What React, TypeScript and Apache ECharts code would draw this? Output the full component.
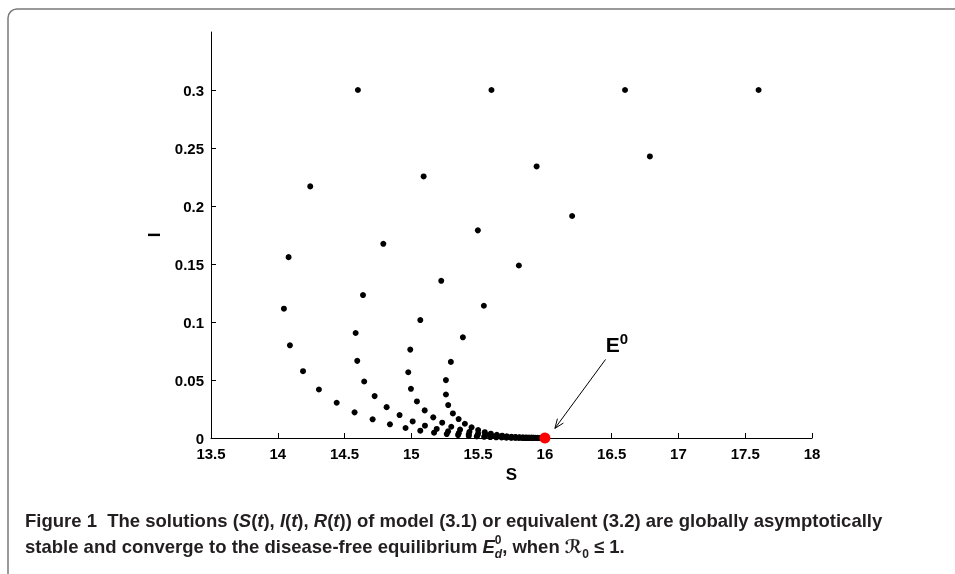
import React, { useEffect, useRef } from "react";
import * as echarts from "echarts";

// Y tick values (labels shown 0 .. 0.3; axis extends to 0.35)
const yTickValues = [0, 0.05, 0.1, 0.15, 0.2, 0.25, 0.3];

// Trajectory starting at S = 14.6
const trajA_S = [14.6, 14.243, 14.081, 14.046, 14.091, 14.189, 14.308, 14.441, 14.575, 14.71, 14.84, 14.957, 15.067, 15.17, 15.265, 15.35, 15.43, 15.49, 15.545, 15.59, 15.635, 15.675, 15.71, 15.745, 15.775, 15.8, 15.825, 15.845, 15.865, 15.88, 15.895, 15.91, 15.92, 15.93, 15.94, 15.95, 15.96, 15.965, 15.97, 15.975, 15.98, 15.985, 15.99];
const trajA_I = [0.3, 0.2169, 0.1559, 0.1115, 0.0799, 0.0576, 0.0418, 0.0304, 0.0221, 0.0161, 0.0118, 0.0086, 0.0063, 0.0046, 0.0034, 0.0025, 0.0018, 0.0013, 0.001, 0.0008, 0.0006, 0.0005, 0.0004, 0.0003, 0.0003, 0.0002, 0.0002, 0.0001, 0.0001, 0.0001, 0.0001, 0.0001, 0, 0, 0, 0, 0, 0, 0, 0, 0, 0, 0];

// Trajectory starting at S = 15.6
const trajB_S = [15.6, 15.092, 14.79, 14.638, 14.583, 14.595, 14.647, 14.725, 14.815, 14.912, 15.01, 15.102, 15.19, 15.275, 15.355, 15.43, 15.495, 15.55, 15.595, 15.64, 15.68, 15.715, 15.75, 15.78, 15.805, 15.83, 15.85, 15.87, 15.885, 15.9, 15.915, 15.925, 15.935, 15.945, 15.955, 15.962, 15.968, 15.974, 15.979, 15.984, 15.988, 15.992];
const trajB_I = [0.3, 0.2255, 0.1674, 0.1232, 0.0905, 0.0665, 0.0487, 0.0361, 0.0266, 0.0198, 0.0143, 0.0106, 0.0078, 0.0057, 0.0042, 0.0031, 0.0023, 0.0017, 0.0012, 0.0009, 0.0007, 0.0005, 0.0004, 0.0003, 0.0002, 0.0002, 0.0001, 0.0001, 0.0001, 0.0001, 0, 0, 0, 0, 0, 0, 0, 0, 0, 0, 0, 0];

// Trajectory starting at S = 16.6
const trajC_S = [16.6, 15.938, 15.498, 15.224, 15.067, 14.992, 14.977, 14.997, 15.042, 15.1, 15.164, 15.231, 15.299, 15.365, 15.435, 15.5, 15.555, 15.6, 15.645, 15.685, 15.72, 15.755, 15.785, 15.81, 15.835, 15.855, 15.875, 15.89, 15.905, 15.918, 15.93, 15.94, 15.95, 15.958, 15.966, 15.972, 15.978, 15.983, 15.987, 15.991, 15.994];
const trajC_I = [0.3, 0.2341, 0.179, 0.1355, 0.1017, 0.0762, 0.0567, 0.0424, 0.0315, 0.0238, 0.0178, 0.0132, 0.0097, 0.0072, 0.0053, 0.0039, 0.0029, 0.0021, 0.0016, 0.0012, 0.0009, 0.0006, 0.0005, 0.0004, 0.0003, 0.0002, 0.0002, 0.0001, 0.0001, 0.0001, 0, 0, 0, 0, 0, 0, 0, 0, 0, 0, 0];

// Trajectory starting at S = 17.6
const trajD_S = [17.6, 16.786, 16.204, 15.805, 15.543, 15.386, 15.296, 15.259, 15.259, 15.276, 15.311, 15.354, 15.401, 15.451, 15.5, 15.55, 15.595, 15.64, 15.68, 15.715, 15.75, 15.78, 15.81, 15.835, 15.86, 15.88, 15.9, 15.915, 15.93, 15.945, 15.955, 15.965, 15.972, 15.978, 15.983, 15.988, 15.992, 15.996];
const trajD_I = [0.3, 0.2427, 0.1914, 0.1487, 0.114, 0.0868, 0.0656, 0.0499, 0.0375, 0.0284, 0.0212, 0.0163, 0.0123, 0.0092, 0.0068, 0.005, 0.0037, 0.0027, 0.002, 0.0015, 0.0011, 0.0008, 0.0006, 0.0004, 0.0003, 0.0002, 0.0002, 0.0001, 0.0001, 0.0001, 0, 0, 0, 0, 0, 0, 0, 0];

// Disease-free equilibrium E0
const equilibrium = [16, 0];

// Annotation anchors (data units)
const arrowStart = [16.454, 0.0677];
const arrowEnd = [16.075, 0.0083];
const labelAnchor = [16.455, 0.092];

const AXIS_FONT = '"Liberation Sans", Arial, Helvetica, sans-serif';
const CAPTION_FONT = '"Liberation Sans", Arial, sans-serif';
const CAP = "#231f20";

export default function App() {
  const ref = useRef<HTMLDivElement>(null);

  useEffect(() => {
    const chart = echarts.init(ref.current!, null, { renderer: "svg" });
    const zip = (s: number[], i: number[]) => s.map((v, k) => [v, i[k]]);
    const blackPts = [
      ...zip(trajA_S, trajA_I),
      ...zip(trajB_S, trajB_I),
      ...zip(trajC_S, trajC_I),
      ...zip(trajD_S, trajD_I),
    ];

    chart.setOption({
      animation: false,
      grid: { left: 211, right: 143, top: 32, bottom: 136 },
      xAxis: {
        type: "value",
        min: 13.5,
        max: 18,
        interval: 0.5,
        name: "S",
        nameLocation: "middle",
        nameGap: 26,
        nameTextStyle: { fontFamily: AXIS_FONT, fontWeight: "bold", fontSize: 17, color: "#000" },
        axisLine: { lineStyle: { color: "#000", width: 1 } },
        axisTick: { inside: true, length: 5, lineStyle: { color: "#000" } },
        axisLabel: { color: "#000", fontWeight: "bold", fontSize: 15, fontFamily: AXIS_FONT, margin: 8 },
        splitLine: { show: false },
      },
      yAxis: {
        type: "value",
        min: 0,
        max: 0.35,
        interval: 0.05,
        name: "I",
        nameLocation: "middle",
        nameGap: 48,
        nameTextStyle: { fontFamily: AXIS_FONT, fontWeight: "bold", fontSize: 17, color: "#000" },
        axisLine: { show: true, lineStyle: { color: "#000", width: 1 } },
        axisTick: { show: true, inside: true, length: 5, lineStyle: { color: "#000" }, customValues: yTickValues },
        axisLabel: { color: "#000", fontWeight: "bold", fontSize: 15, fontFamily: AXIS_FONT, margin: 7, customValues: yTickValues, lineHeight: 14 },
        splitLine: { show: false },
      },
      series: [
        {
          type: "scatter",
          data: blackPts,
          symbolSize: 6,
          itemStyle: { color: "#000", opacity: 1 },
          clip: false,
          z: 2,
        },
        {
          type: "scatter",
          data: [equilibrium],
          symbolSize: 11,
          itemStyle: { color: "#ff0000", opacity: 1 },
          clip: false,
          z: 3,
        },
      ],
    });

    const p1 = chart.convertToPixel({ gridIndex: 0 }, arrowStart) as number[];
    const p2 = chart.convertToPixel({ gridIndex: 0 }, arrowEnd) as number[];
    const pl = chart.convertToPixel({ gridIndex: 0 }, labelAnchor) as number[];
    const ang = Math.atan2(p2[1] - p1[1], p2[0] - p1[0]);
    const hl = 10;
    const spread = 0.38;
    const h1 = [p2[0] - hl * Math.cos(ang - spread), p2[1] - hl * Math.sin(ang - spread)];
    const h2 = [p2[0] - hl * Math.cos(ang + spread), p2[1] - hl * Math.sin(ang + spread)];

    chart.setOption({
      graphic: [
        {
          type: "rect",
          silent: true,
          shape: { x: 8, y: 9, width: 1100, height: 800, r: 9 },
          style: { fill: "none", stroke: "#7a7a7a", lineWidth: 1.5 },
        },
        {
          type: "line",
          silent: true,
          shape: { x1: p1[0], y1: p1[1], x2: p2[0], y2: p2[1] },
          style: { stroke: "#000", lineWidth: 1 },
        },
        {
          type: "polyline",
          silent: true,
          shape: { points: [h1, p2, h2] },
          style: { stroke: "#000", lineWidth: 1, fill: "none" },
        },
        {
          type: "text",
          silent: true,
          x: pl[0],
          y: pl[1],
          style: {
            text: "{e|E}{s|0}",
            rich: {
              e: { fontFamily: AXIS_FONT, fontWeight: "bold", fontSize: 21, fill: "#000", lineHeight: 24, verticalAlign: "bottom" },
              s: { fontFamily: AXIS_FONT, fontWeight: "bold", fontSize: 15, fill: "#000", lineHeight: 16, verticalAlign: "top" },
            },
          },
        },
        {
          type: "text",
          silent: true,
          left: 25,
          top: 511,
          style: {
            text:
              "{b|Figure 1  The solutions (}{i|S}{b|(}{i|t}{b|), }{i|I}{b|(}{i|t}{b|), }{i|R}{b|(}{i|t}{b|)) of model (3.1) or equivalent (3.2) are globally asymptotically}\n" +
              "{b|stable and converge to the disease-free equilibrium }{i|E}{sup|0}{subi|d}{b|, when }{cal|\u211B}{sub|0}{b| \u2264 1.}",
            rich: {
              b: { fontFamily: CAPTION_FONT, fontWeight: "bold", fontSize: 18.5, fill: CAP, lineHeight: 26 },
              i: { fontFamily: CAPTION_FONT, fontWeight: "bold", fontStyle: "italic", fontSize: 18.5, fill: CAP, lineHeight: 26 },
              cal: { fontFamily: '"DejaVu Serif", "DejaVu Sans", serif', fontStyle: "italic", fontWeight: "bold", fontSize: 18.5, fill: CAP, lineHeight: 26 },
              sup: { fontFamily: CAPTION_FONT, fontWeight: "bold", fontSize: 12, fill: CAP, lineHeight: 12, verticalAlign: "top", width: 0 },
              subi: { fontFamily: CAPTION_FONT, fontWeight: "bold", fontStyle: "italic", fontSize: 12, fill: CAP, lineHeight: 12, verticalAlign: "bottom" },
              sub: { fontFamily: CAPTION_FONT, fontWeight: "bold", fontSize: 12, fill: CAP, lineHeight: 12, verticalAlign: "bottom" },
            },
          },
        },
      ],
    });

    return () => chart.dispose();
  }, []);

  return <div ref={ref} style={{ position: "fixed", left: 0, top: 0, width: 955, height: 574 }} />;
}
